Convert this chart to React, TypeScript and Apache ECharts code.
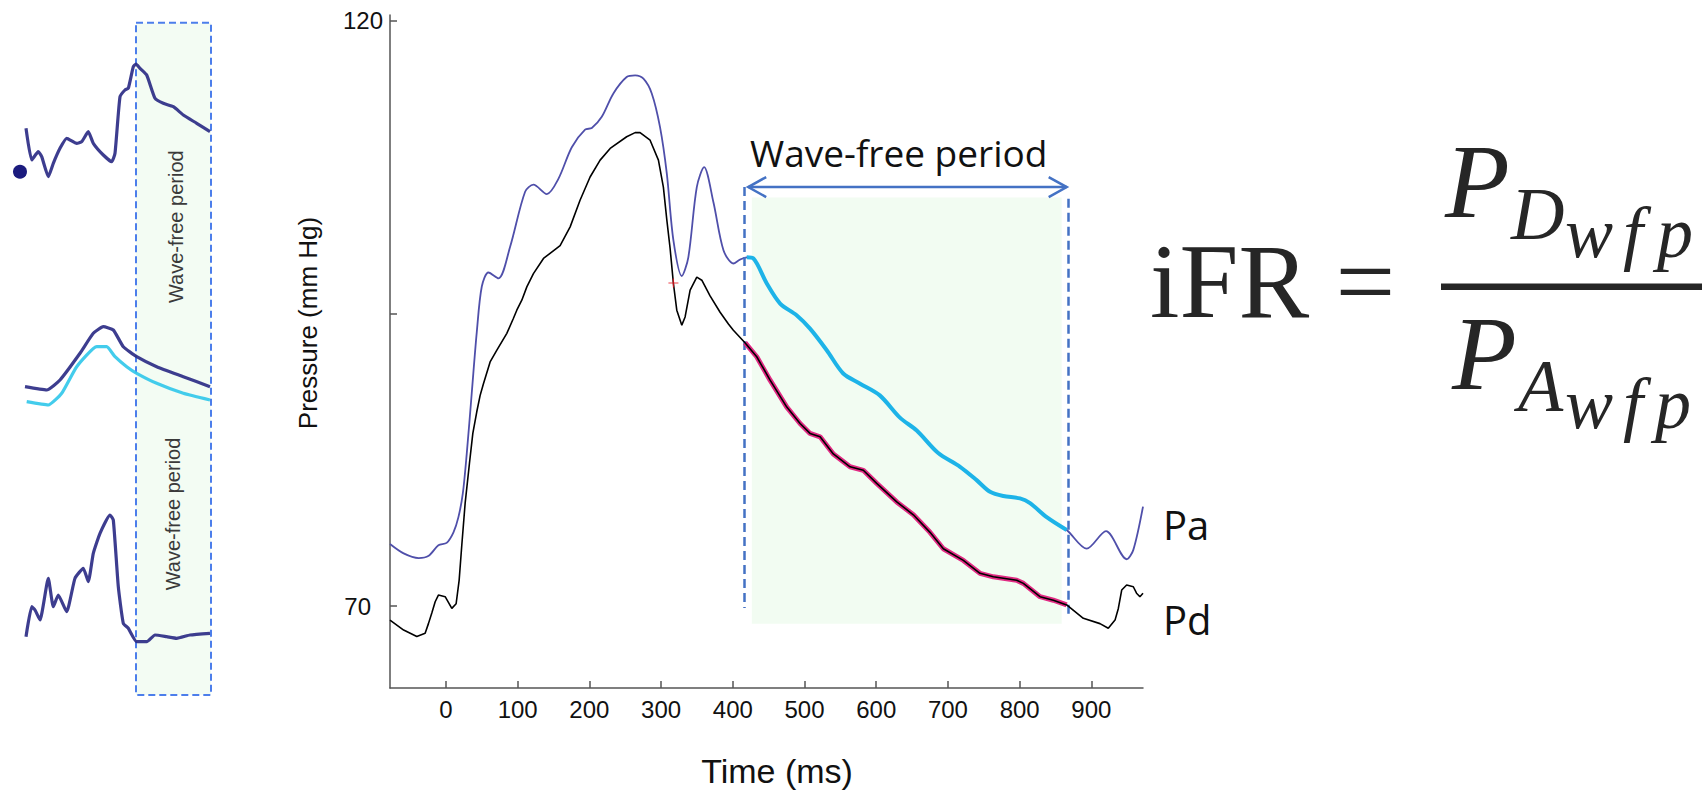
import React, { useEffect, useRef } from "react";
import * as echarts from "echarts";

// ---- Main chart data (time in ms, pressure in mm Hg) ----
const paTime = [-78, -59, -38, -24, -10.5, 1, 10.5, 17.4, 23.5, 29, 36, 43, 50, 59.3, 73.2, 89.5, 110.4, 122, 140.7, 156.8, 175.5, 194, 203.4, 217.3, 233.5, 252, 263.8, 275.4, 287, 298.6, 308, 317.2, 328.9, 338, 349.8, 360, 373, 387, 400.8, 410, 419.5, 428.7, 447.4, 466, 489, 507.7, 531, 554, 577.5, 605, 633, 656.5, 686, 716.9, 740, 758.7, 777.2, 800.5, 814.5, 837.7, 865.6, 893.5, 920.4, 949.2, 958.5, 972];
const paPressure = [75.3, 74.5, 74.1, 74.3, 75.2, 75.4, 76.3, 77.6, 79.6, 83.0, 88.2, 93.4, 97.3, 98.5, 98.0, 100.7, 105.4, 106.0, 105.2, 106.5, 109.2, 110.7, 110.85, 111.8, 113.8, 115.2, 115.35, 115.06, 113.8, 110.9, 106.95, 101.25, 98.2, 99.8, 105.8, 107.5, 104.5, 100.4, 99.27, 99.6, 99.8, 99.7, 97.56, 95.85, 94.85, 93.7, 91.86, 89.87, 89.0, 88.0, 86.1, 85.0, 83.1, 81.9, 80.76, 79.76, 79.4, 79.2, 78.8, 77.6, 76.5, 74.9, 76.4, 74.0, 74.8, 78.5];

const pdTime = [-78, -59, -40.6, -29, -24.4, -19.7, -15, -10.5, -1.1, 8.2, 14.2, 18.4, 22.1, 26.8, 32.8, 37.5, 43, 47.7, 52.3, 61.6, 71, 84.9, 94, 98.8, 105.8, 112.8, 122, 136, 159.2, 173.2, 187, 201, 215, 229, 252, 263.8, 270.7, 284.7, 296.3, 303.2, 308, 312.6, 317.2, 321.9, 328.9, 333.5, 340.5, 349.8, 356.8, 368.3, 382.3, 393.9, 400.8, 417, 433.4, 452, 475.3, 493.8, 507.7, 521.7, 540.2, 563.5, 582, 600.7, 628.6, 651.8, 675, 693.6, 721.5, 744.7, 763.3, 795.9, 805.2, 828.4, 847, 865.6, 888.8, 912, 923.6, 933, 937.6, 942.3, 949.2, 958.5, 963, 967.7, 972];
const pdPressure = [68.8, 67.95, 67.4, 67.67, 68.5, 69.4, 70.37, 70.94, 70.8, 69.8, 70.2, 72.2, 75.2, 78.8, 82.2, 84.75, 86.6, 88.0, 89.0, 90.86, 91.86, 93.3, 94.57, 95.28, 96.13, 97.27, 98.4, 99.7, 100.8, 102.4, 104.67, 106.66, 108.1, 109.1, 110.1, 110.45, 110.45, 109.8, 108.1, 105.8, 103.0, 100.55, 97.56, 95.28, 94.0, 94.7, 96.99, 98.1, 97.84, 96.5, 95.1, 94.1, 93.57, 92.5, 91.3, 89.3, 87.0, 85.6, 84.75, 84.46, 83.0, 81.9, 81.6, 80.48, 78.9, 77.8, 76.3, 74.9, 73.9, 72.8, 72.5, 72.2, 71.94, 70.8, 70.5, 70.1, 68.95, 68.5, 68.1, 68.8, 69.8, 71.37, 71.8, 71.65, 71.1, 70.8, 71.1];

const markerPoint = [317.2, 97.6];

// Wave-free period annotations (ms / mm Hg)
const wfpLeftLine = 416;
const wfpRightLine = 868;
const wfpAreaX = [426.5, 858.6];
const wfpAreaY = [104.9, 68.5];
const wfpArrow = [421.5, 865.6, 105.8];
const leftLineY = [105.8, 69.83];
const rightLineY = [104.8, 69.0];
const paHighlight = [419, 866];
const pdHighlight = [416, 868];

// Axis ticks
const xTicks = [0, 100, 200, 300, 400, 500, 600, 700, 800, 900];
const yTicks = [70, 95, 120];
const yLabels = [70, 120];

// ---- Left schematic sketch (sketch units) ----
const sketchTopX = [26, 31.7, 38.3, 41.7, 48.3, 53.3, 60, 66.7, 76.7, 81.7, 88.3, 93.3, 103.3, 111.7, 115, 120, 125, 128.3, 133.3, 136, 140, 146.7, 155, 163.3, 173.3, 183.3, 196.7, 210];
const sketchTopY = [128.3, 160, 151.7, 156.7, 176.7, 163.3, 148.3, 138.3, 143.3, 141.7, 131.7, 143.3, 155, 161.7, 153.3, 96.7, 90, 88.3, 66.7, 64, 68.3, 75, 98.3, 103.3, 106.7, 115, 123.3, 131.7];
const sketchMidX = [25, 46.7, 60, 80, 93.3, 103.3, 113.3, 123.3, 136.7, 156.7, 183.3, 210];
const sketchMidY = [386.7, 390, 380, 353.3, 333.3, 326.7, 330, 346.7, 356.7, 366.7, 376.7, 386.7];
const sketchCyanX = [26.7, 48.3, 61.7, 76.7, 96.7, 106.7, 115, 126.7, 136.7, 156.7, 183.3, 210];
const sketchCyanY = [401.7, 405, 393.3, 366.7, 346.7, 346.7, 356.7, 366.7, 373.3, 383.3, 393.3, 400];
const sketchBotX = [26, 31.7, 35, 40, 48.3, 53.3, 58.3, 66.7, 75, 83.3, 88.3, 93.3, 100, 110, 113.3, 118.3, 123.3, 128.3, 136.7, 146.7, 155, 166.7, 176.7, 190, 210];
const sketchBotY = [636.7, 606.7, 610, 620, 578.3, 606.7, 595, 611.7, 578.3, 568.3, 581.7, 553.3, 533.3, 515, 520, 586.7, 623.3, 628.3, 641.7, 641.7, 635, 636.7, 638.3, 635, 633.3];
const sketchDot = [20, 171.7];
const sketchBox = [[136, 22.7], [211, 695]];

const zip = (a: number[], b: number[]) => a.map((v, i) => [v, b[i]]);
const within = (pts: number[][], r: number[]) => pts.filter((p) => p[0] >= r[0] && p[0] <= r[1]);

const SANS = "'Liberation Sans', Arial, sans-serif";
const CAL = "'Open Sans', 'Noto Sans', sans-serif";
const SERIF = "'Liberation Serif', 'Times New Roman', serif";
const INK = "#262626";
const BLUE = "#4472C4";

function tok(fontSize: number, padTop: number, width: number) {
  return {
    fontSize,
    lineHeight: fontSize,
    fontFamily: SERIF,
    fontStyle: "italic",
    color: INK,
    verticalAlign: "top",
    padding: [padTop, 0, 0, 0],
    width,
  };
}

function buildOption() {
  const pa = zip(paTime, paPressure);
  const pd = zip(pdTime, pdPressure);

  const t = (text: string, x: number, y: number, fontSize: number, font: string, extra: any = {}) => ({
    type: "text",
    x,
    y,
    silent: true,
    z: 100,
    rotation: extra.rotation || 0,
    style: {
      text,
      fontSize,
      fontFamily: font,
      fill: extra.fill || "#111",
      align: extra.align || "left",
      verticalAlign: "middle",
      fontStyle: extra.fontStyle || "normal",
    },
  });

  const frac = (x: number, y: number, sub: string, w: number[], pads: number[]) => ({
    type: "text",
    x,
    y,
    silent: true,
    z: 100,
    style: {
      text: `{P|P}{S|${sub}}{w|w}{f|f}{p|p}`,
      align: "left",
      verticalAlign: "top",
      fill: INK,
      rich: {
        P: tok(106, 0, w[0]),
        S: tok(74, pads[0], w[1]),
        w: tok(72, pads[1], w[2]),
        f: tok(72, pads[1], w[3]),
        p: tok(72, pads[1], 38),
      },
    },
  });

  const graphic = [
    t("Pressure (mm Hg)", 307.5, 323, 26, SANS, { rotation: Math.PI / 2, align: "center" }),
    t("Time (ms)", 777, 770.7, 34, SANS, { align: "center" }),
    t("Wave-free period", 750, 152.5, 37, CAL),
    t("Pa", 1163, 524.7, 40, CAL),
    t("Pd", 1163, 619.5, 40, CAL),
    t("Wave-free period", 176, 226.7, 20, SANS, { rotation: Math.PI / 2, align: "center", fill: "#3a3a3a" }),
    t("Wave-free period", 173, 514, 20, SANS, { rotation: Math.PI / 2, align: "center", fill: "#3a3a3a" }),
    // formula
    t("iFR =", 1150, 281.7, 106, SERIF, { fill: INK }),
    frac(1445, 128.7, "D", [66, 54, 58, 34], [48.3, 68.1]),
    frac(1452, 300, "A", [66, 47, 58, 32], [49, 68.2]),
    { type: "rect", silent: true, shape: { x: 1441, y: 283.5, width: 261, height: 6.5 }, style: { fill: INK } },
  ];

  const mainAxisStyle = { color: "#555", width: 1.5 };

  return {
    animation: false,
    backgroundColor: "#ffffff",
    grid: [
      { left: 390, top: 15, width: 753, height: 673 },
      { left: 0, top: 0, width: 230, height: 792 },
    ],
    xAxis: [
      {
        type: "value",
        gridIndex: 0,
        min: -78,
        max: 972,
        axisLine: { show: true, onZero: false, lineStyle: mainAxisStyle },
        axisTick: { show: true, inside: true, length: 7, customValues: xTicks, lineStyle: mainAxisStyle },
        axisLabel: { customValues: xTicks, fontSize: 24, color: "#111", margin: 9, fontFamily: SANS },
        splitLine: { show: false },
      },
      { type: "value", gridIndex: 1, min: 0, max: 230, show: false },
    ],
    yAxis: [
      {
        type: "value",
        gridIndex: 0,
        min: 63,
        max: 120.5,
        axisLine: { show: true, onZero: false, lineStyle: mainAxisStyle },
        axisTick: { show: true, inside: true, length: 7, customValues: yTicks, lineStyle: mainAxisStyle },
        axisLabel: {
          customValues: yLabels,
          fontSize: 24,
          color: "#111",
          margin: 7,
          fontFamily: SANS,
          formatter: (v: number) => (v === 70 ? "{b|70}" : String(v)),
          rich: {
            b: { fontSize: 24, fontFamily: SANS, color: "#111", padding: [0, 12, 0, 0] },
          },
        },
        splitLine: { show: false },
      },
      { type: "value", gridIndex: 1, min: 0, max: 792, inverse: true, show: false },
    ],
    graphic,
    series: [
      // green wave-free area
      {
        type: "line",
        xAxisIndex: 0,
        yAxisIndex: 0,
        data: [[wfpAreaX[0], wfpAreaY[1]]],
        showSymbol: false,
        lineStyle: { opacity: 0 },
        silent: true,
        z: 1,
        markArea: {
          silent: true,
          itemStyle: { color: "#F2FCF2" },
          data: [[{ coord: [wfpAreaX[0], wfpAreaY[0]] }, { coord: [wfpAreaX[1], wfpAreaY[1]] }]],
        },
      },
      // dashed boundaries
      {
        type: "line",
        xAxisIndex: 0,
        yAxisIndex: 0,
        data: [[wfpLeftLine, leftLineY[1]]],
        showSymbol: false,
        lineStyle: { opacity: 0 },
        silent: true,
        z: 2,
        markLine: {
          silent: true,
          symbol: ["none", "none"],
          label: { show: false },
          lineStyle: { color: BLUE, width: 2.5, type: [9, 5] },
          data: [
            [{ coord: [wfpLeftLine, leftLineY[0]] }, { coord: [wfpLeftLine, leftLineY[1]] }],
            [{ coord: [wfpRightLine, rightLineY[0]] }, { coord: [wfpRightLine, rightLineY[1]] }],
          ],
        },
      },
      // Pa full
      {
        name: "Pa",
        type: "line",
        xAxisIndex: 0,
        yAxisIndex: 0,
        data: pa,
        showSymbol: false,
        smooth: 0.3,
        lineStyle: { color: "#4F4FAA", width: 1.8 },
        z: 3,
      },
      // Pa in wave-free period
      {
        type: "line",
        xAxisIndex: 0,
        yAxisIndex: 0,
        data: within(pa, paHighlight),
        showSymbol: false,
        smooth: 0.3,
        lineStyle: { color: "#1DB3E8", width: 4 },
        z: 4,
      },
      // Pd highlight
      {
        type: "line",
        xAxisIndex: 0,
        yAxisIndex: 0,
        data: within(pd, pdHighlight),
        showSymbol: false,
        lineStyle: { color: "#E22B84", width: 5 },
        z: 5,
      },
      // Pd full
      {
        name: "Pd",
        type: "line",
        xAxisIndex: 0,
        yAxisIndex: 0,
        data: pd,
        showSymbol: false,
        lineStyle: { color: "#000000", width: 1.6 },
        z: 6,
      },
      // red marker
      {
        type: "scatter",
        xAxisIndex: 0,
        yAxisIndex: 0,
        data: [markerPoint],
        symbol: "path://M0 4.4 H10 V5.6 H0 Z M4.4 0 H5.6 V10 H4.4 Z",
        symbolSize: [10, 9],
        itemStyle: { color: "#E8141E" },
        z: 7,
      },
      // double arrow
      {
        type: "custom",
        xAxisIndex: 0,
        yAxisIndex: 0,
        data: [wfpArrow],
        silent: true,
        z: 8,
        renderItem: (_params: any, api: any) => {
          const a = api.coord([api.value(0), api.value(2)]);
          const b = api.coord([api.value(1), api.value(2)]);
          const st = { stroke: BLUE, lineWidth: 2.5, fill: "none" };
          return {
            type: "group",
            children: [
              { type: "line", shape: { x1: a[0], y1: a[1], x2: b[0], y2: b[1] }, style: st },
              { type: "polyline", shape: { points: [[a[0] + 18, a[1] - 10], [a[0], a[1]], [a[0] + 18, a[1] + 10]] }, style: st },
              { type: "polyline", shape: { points: [[b[0] - 18, b[1] - 10], [b[0], b[1]], [b[0] - 18, b[1] + 10]] }, style: st },
            ],
          };
        },
      },
      // ---- left sketch ----
      {
        type: "line",
        xAxisIndex: 1,
        yAxisIndex: 1,
        data: [sketchBox[0]],
        showSymbol: false,
        lineStyle: { opacity: 0 },
        silent: true,
        z: 1,
        markArea: {
          silent: true,
          itemStyle: { color: "#F3FCF3", borderColor: "#4C7EEB", borderWidth: 2, borderType: [7, 4] },
          data: [[{ coord: sketchBox[0] }, { coord: sketchBox[1] }]],
        },
      },
      ...[
        [sketchTopX, sketchTopY, "#2D2D86"],
        [sketchMidX, sketchMidY, "#2D2D86"],
        [sketchCyanX, sketchCyanY, "#33C8EA"],
        [sketchBotX, sketchBotY, "#2D2D86"],
      ].map(([xs, ys, c], i) => ({
        type: "line",
        xAxisIndex: 1,
        yAxisIndex: 1,
        data: zip(xs as number[], ys as number[]),
        showSymbol: false,
        smooth: 0.15,
        lineStyle: { color: c as string, width: 3.2, opacity: 0.92 },
        z: i === 2 ? 3 : 4,
      })),
      {
        type: "scatter",
        xAxisIndex: 1,
        yAxisIndex: 1,
        data: [sketchDot],
        symbolSize: 14,
        itemStyle: { color: "#1B1B7E", opacity: 1 },
        z: 5,
      },
    ],
  };
}

export default function App() {
  const ref = useRef<HTMLDivElement>(null);
  useEffect(() => {
    if (!ref.current) return;
    const chart = echarts.init(ref.current, null, { renderer: "svg" });
    chart.setOption(buildOption() as any);
    return () => chart.dispose();
  }, []);
  return (
    <div
      ref={ref}
      style={{ position: "fixed", left: 0, top: 0, width: 1702, height: 792, background: "#ffffff" }}
    />
  );
}
